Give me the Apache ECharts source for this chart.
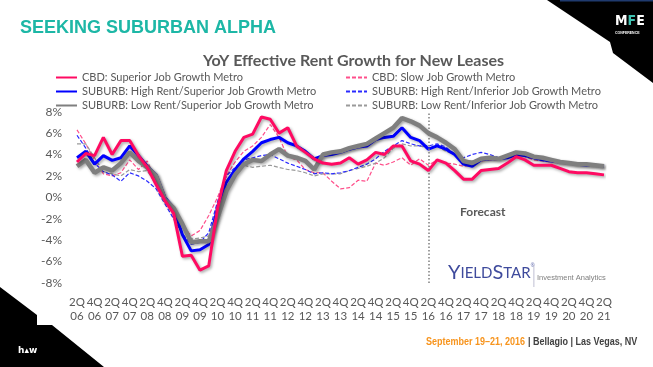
<!DOCTYPE html>
<html><head><meta charset="utf-8">
<script src="https://cdn.jsdelivr.net/npm/echarts@6/dist/echarts.min.js"></script>
<style>html,body{margin:0;padding:0;background:#fff}#c{width:653px;height:367px}</style>
</head><body><div id="c"></div>
<script>
// Quarterly categories 2Q06 .. 2Q21
const quarters = [];
(function(){ let q=2, y=6; for(let i=0;i<61;i++){ quarters.push(q+'Q'+String(y).padStart(2,'0')); q++; if(q>4){q=1;y++;} } })();

const cbdSuperior = [3.3,4.1,3.9,5.6,4.0,5.3,5.3,3.9,2.8,1.2,-0.3,-1.5,-5.5,-5.4,-6.8,-6.4,-1.0,2.5,4.3,5.6,5.9,7.5,7.3,6.0,6.5,4.8,4.2,3.6,3.2,3.1,3.2,3.7,3.1,3.5,4.2,4.0,4.8,4.8,3.4,3.1,2.5,3.5,3.2,2.5,1.7,1.7,2.5,2.6,2.7,3.2,3.8,3.5,3.0,3.0,3.0,2.7,2.4,2.3,2.3,2.2,2.1];
const cbdSlow = [6.3,5.0,3.5,2.2,2.0,2.3,3.5,2.6,3.4,1.5,0.0,-1.2,-2.6,-3.6,-3.1,-1.7,0.0,2.0,3.3,4.3,4.8,5.6,6.8,5.6,3.8,3.5,2.6,2.3,2.3,1.5,0.8,0.9,1.6,1.5,3.2,3.0,3.3,3.7,3.0,3.6,3.0,3.5,3.2,3.1,2.9,3.0,3.4,3.5,3.5,3.8,4.0,3.8,3.5,3.4,3.3,3.2,3.1,3.0,3.0,2.9,2.9];
const subHighSup = [3.7,4.3,3.1,3.9,3.45,3.7,4.8,3.9,2.9,2.1,0.0,-1.0,-3.5,-5.0,-4.9,-4.4,-1.0,1.4,2.6,3.6,4.3,5.1,5.4,5.6,5.1,4.8,4.3,3.6,3.9,4.0,4.2,4.5,4.7,4.8,5.4,5.6,5.7,6.5,5.6,5.3,4.5,4.8,4.5,4.0,3.1,2.9,3.5,3.6,3.6,3.7,4.0,3.9,3.7,3.5,3.4,3.3,3.2,3.1,3.0,3.0,2.9];
const subLowSup = [2.9,3.5,2.3,2.8,2.5,3.2,4.2,3.4,2.8,2.0,-0.2,-1.0,-2.5,-4.2,-4.1,-4.1,-1.9,0.6,2.1,3.1,3.5,3.4,4.0,4.5,3.9,3.7,3.4,2.6,4.0,4.2,4.3,4.6,4.8,5.0,5.5,6.0,6.5,7.4,7.1,6.7,6.0,5.6,5.1,4.5,3.4,3.2,3.6,3.7,3.6,3.9,4.2,4.1,3.8,3.7,3.5,3.3,3.2,3.1,3.1,3.0,2.9];
const subHighInf = [5.8,4.6,3.2,2.4,2.1,1.5,2.3,2.0,1.5,0.8,-0.6,-2.0,-3.4,-4.4,-4.2,-3.3,-0.4,2.0,2.8,3.5,3.7,3.9,4.0,3.6,3.2,2.9,2.6,2.2,2.3,2.2,2.3,2.5,2.8,3.1,3.6,4.3,4.8,5.3,5.0,4.8,4.8,5.0,4.7,4.0,3.7,4.0,4.2,4.0,3.7,3.7,4.0,4.0,3.7,3.5,3.4,3.3,3.2,3.1,3.0,3.0,2.9];
const subLowInf = [5.0,5.0,3.7,2.4,2.2,2.0,2.6,2.4,2.5,1.2,-0.4,-1.5,-2.8,-3.9,-3.8,-3.6,-1.0,1.5,2.5,3.0,2.8,2.9,3.0,2.8,2.6,2.5,2.3,2.0,2.2,2.2,2.2,2.5,2.7,2.9,3.2,3.7,4.6,5.0,4.8,4.8,4.6,4.8,4.3,4.0,3.4,3.4,3.6,3.6,3.6,3.8,4.1,3.9,3.7,3.5,3.4,3.3,3.2,3.1,3.0,3.0,2.9];
const forecastStart = '2Q16';
const yTicks = {min:-8, max:8, step:2};

const names = ['CBD: Superior Job Growth Metro','CBD: Slow Job Growth Metro','SUBURB: High Rent/Superior Job Growth Metro','SUBURB: High Rent/Inferior Job Growth Metro','SUBURB: Low Rent/Superior Job Growth Metro','SUBURB: Low Rent/Inferior Job Growth Metro'];

const FONT = 'Lato, "Open Sans", sans-serif';
const txt = '#595959';
const shadow = {shadowColor:'rgba(0,0,0,0.35)', shadowBlur:3, shadowOffsetX:1.5, shadowOffsetY:1.5};

function solid(name, data, color, width, z){
  return {name, type:'line', data, symbol:'none', showSymbol:false, z,
    lineStyle:Object.assign({color, width}, shadow), itemStyle:{color}};
}
function dashed(name, data, color, z){
  return {name, type:'line', data, symbol:'none', showSymbol:false, z,
    lineStyle:{color, width:1.2, type:[4,2]}, itemStyle:{color}};
}
const legendCommon = {orient:'vertical', top:72, padding:0, itemWidth:21, itemHeight:10, itemGap:3,
  itemStyle:{opacity:0, borderWidth:0}, textStyle:{color:txt, fontSize:11, fontFamily:FONT}};

const chart = echarts.init(document.getElementById('c'), null, {renderer:'canvas'});
chart.setOption({
  animation:false,
  backgroundColor:'#fff',
  title:[
    {text:'SEEKING SUBURBAN ALPHA', left:20, top:19, padding:0, textStyle:{color:'#1DB7A6', fontSize:18, fontWeight:'bold', fontFamily:'"Liberation Sans", Arial, sans-serif'}},
    {text:'YoY Effective Rent Growth for New Leases', left:198, top:48, textStyle:{color:txt, fontSize:16, fontWeight:'bold', fontFamily:FONT}}
  ],
  legend:[
    Object.assign({left:55, data:[names[0],names[2],names[4]]}, legendCommon),
    Object.assign({left:345, data:[names[1],names[3],names[5]]}, legendCommon)
  ],
  grid:{left:77, right:49, top:111.7, bottom:84, containLabel:false},
  xAxis:{type:'category', data:quarters, boundaryGap:false,
    axisLine:{show:false}, axisTick:{show:false}, splitLine:{show:false},
    axisLabel:{interval:1, color:txt, fontSize:11.5, fontFamily:FONT, lineHeight:14, margin:12,
      formatter:v=>v.slice(0,2)+'\n'+v.slice(2)}},
  yAxis:{type:'value', min:yTicks.min, max:yTicks.max, interval:yTicks.step,
    axisLine:{show:false}, axisTick:{show:false}, splitLine:{show:false},
    axisLabel:{color:txt, fontSize:12, fontFamily:FONT, margin:15, formatter:'{value}%'}},
  series:[
    dashed(names[1], cbdSlow, '#FF4F8B', 2),
    dashed(names[3], subHighInf, '#2A2AFF', 3),
    dashed(names[5], subLowInf, '#9A9A9A', 2),
    solid(names[2], subHighSup, '#0000FF', 3, 4),
    solid(names[4], subLowSup, '#7F7F7F', 4.5, 5),
    Object.assign(solid(names[0], cbdSuperior, '#FF0A62', 3, 6), {
      markLine:{silent:true, symbol:'none', label:{show:false},
        lineStyle:{color:'#7f7f7f', width:1.5, type:[1.5,2], shadowBlur:0, shadowOffsetX:0, shadowOffsetY:0},
        data:[{xAxis:forecastStart}]}
    })
  ],
  graphic:{elements:[
    {id:'tr', type:'polygon', z:100, shape:{points:[[547,0],[653,0],[653,83],[613,53],[610,42]]}, style:{fill:'#000'}},
    {id:'trline', type:'rect', z:101, shape:{x:560,y:0,width:93,height:1.5}, style:{fill:'#1F3A6E'}},
    {id:'mfe', type:'text', x:615, y:14, z:102, style:{text:'{m|M}{f|F}{m|E}', rich:{m:{fill:'#fff',fontSize:14,fontWeight:'bold',fontFamily:'"DejaVu Sans Condensed", sans-serif'}, f:{fill:'#3FC1B0',fontSize:14,fontWeight:'bold',fontFamily:'"DejaVu Sans Condensed", sans-serif'}}}},
    {id:'conf', type:'text', x:615, y:31, z:102, style:{text:'CONFERENCE', fill:'#fff', fontSize:3.5, fontWeight:'bold', fontFamily:'sans-serif'}},
    {id:'bl', type:'polygon', z:100, shape:{points:[[0,287],[37,315],[37,325],[52,325],[104,367],[0,367]]}, style:{fill:'#000'}},
    {id:'hw', type:'text', x:18, y:346, z:102, style:{text:'h\u25B4w', fill:'#fff', fontSize:9, fontWeight:'bold', fontFamily:'"DejaVu Sans", sans-serif'}},
    {id:'fc', type:'text', x:460, y:206, z:102, style:{text:'Forecast', fill:txt, fontSize:12, fontWeight:'bold', fontFamily:FONT}},
    {id:'ys', type:'text', x:448, y:263, z:102, style:{text:'{b|Y}{s|IELD}{b|S}{s|TAR}{r|®}', rich:{b:{fill:'#3E4A9C',fontSize:20,fontFamily:'Lato, sans-serif'}, s:{fill:'#3E4A9C',fontSize:15,fontFamily:'Lato, sans-serif'}, r:{fill:'#3E4A9C',fontSize:5,verticalAlign:'top'}}}},
    {id:'ysl', type:'rect', z:102, shape:{x:533.5,y:265,width:0.8,height:22}, style:{fill:'#B0B0C8'}},
    {id:'ia', type:'text', x:537, y:274, z:102, style:{text:'Investment Analytics', fill:'#808080', fontSize:7.5, fontFamily:'"Liberation Sans", Arial, sans-serif'}},
    {id:'ft', type:'text', x:426, y:336, scaleX:0.9, z:102, style:{text:'{o|September 19\u201321, 2016} {g|| Bellagio | Las Vegas, NV}', rich:{o:{fill:'#F7941D',fontSize:10,fontWeight:'bold',fontFamily:'"Liberation Sans", sans-serif'}, g:{fill:'#404040',fontSize:10,fontWeight:'bold',fontFamily:'"Liberation Sans", sans-serif'}}}}
  ]}
});
</script></body></html>
